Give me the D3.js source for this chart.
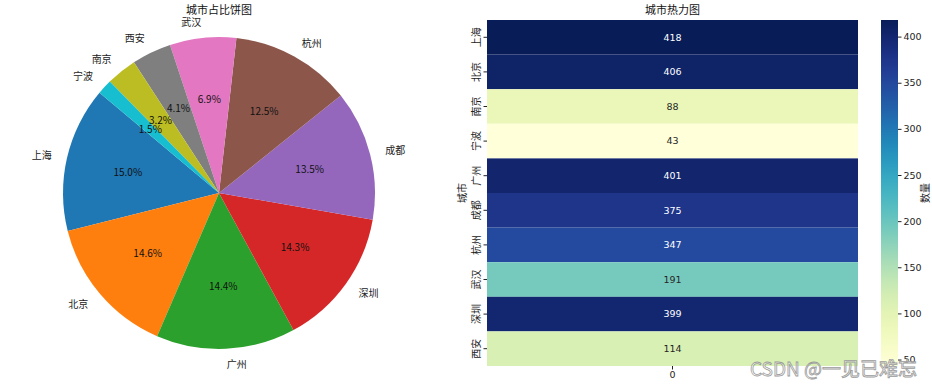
<!DOCTYPE html>
<html>
<head>
<meta charset="utf-8">
<script src="https://cdn.jsdelivr.net/npm/d3@7"></script>
<style>
  body { margin: 0; background: #fff; }
  text { font-family: "Noto Sans CJK SC", "DejaVu Sans", sans-serif; }
</style>
</head>
<body>
<div id="chart"></div>
<script>
// pie data (order as drawn, counterclockwise from 140deg)
const pieCities = ['上海', '北京', '广州', '深圳', '成都', '杭州', '武汉', '西安', '南京', '宁波'];
const pieValues = [418, 406, 401, 399, 375, 347, 191, 114, 88, 43];
const pieColors = ['#1f77b4', '#ff7f0e', '#2ca02c', '#d62728', '#9467bd', '#8c564b', '#e377c2', '#7f7f7f', '#bcbd22', '#17becf'];

// heatmap data
const heatCities = ['上海', '北京', '南京', '宁波', '广州', '成都', '杭州', '武汉', '深圳', '西安'];
const heatValues = [418, 406, 88, 43, 401, 375, 347, 191, 399, 114];
const colorbarTicks = [50, 100, 150, 200, 250, 300, 350, 400];

const W = 932, H = 387;
const svg = d3.select('#chart').append('svg')
  .attr('width', W)
  .attr('height', H);

// ---------- pie ----------
const cx = 219, cy = 193, r = 156;
const toRad = deg => deg * Math.PI / 180;
// matplotlib startangle=140, counterclockwise -> d3 angle = 90 - theta
const pie = d3.pie().sort(null).value(d => d)
  .startAngle(toRad(90 - 140))
  .endAngle(toRad(90 - 140 - 360));
const arcs = pie(pieValues);
const arc = d3.arc().innerRadius(0).outerRadius(r);

const pieG = svg.append('g').attr('transform', `translate(${cx},${cy})`);

pieG.selectAll('path')
  .data(arcs)
  .enter()
  .append('path')
  .attr('d', arc)
  .attr('fill', (d, i) => pieColors[i]);

const total = d3.sum(pieValues);
const mid = d => (d.startAngle + d.endAngle) / 2;

// city labels at 1.1r
pieG.selectAll('.plabel')
  .data(arcs)
  .enter()
  .append('text')
  .attr('class', 'plabel')
  .attr('x', d => 1.1 * r * Math.sin(mid(d)))
  .attr('y', d => -1.1 * r * Math.cos(mid(d)))
  .attr('dy', '0.4em')
  .attr('text-anchor', d => Math.sin(mid(d)) > 0 ? 'start' : 'end')
  .style('font-size', '10px')
  .style('fill', '#222')
  .text((d, i) => pieCities[i]);

// percent labels at 0.6r
pieG.selectAll('.pct')
  .data(arcs)
  .enter()
  .append('text')
  .attr('class', 'pct')
  .attr('x', d => 0.6 * r * Math.sin(mid(d)))
  .attr('y', d => -0.6 * r * Math.cos(mid(d)))
  .attr('dy', '0.35em')
  .attr('text-anchor', 'middle')
  .style('font-size', '10px')
  .style('fill', '#111')
  .text(d => (d.value / total * 100).toFixed(1) + '%');

svg.append('text')
  .attr('x', cx)
  .attr('y', 14)
  .attr('text-anchor', 'middle')
  .style('font-size', '11px')
  .style('fill', '#111')
  .text('城市占比饼图');

// ---------- heatmap ----------
const hx0 = 487, hx1 = 858, hy0 = 20, hy1 = 366;

const x = d3.scaleBand().domain(['0']).range([hx0, hx1]);
const y = d3.scaleBand().domain(heatCities).range([hy0, hy1]);
const vmin = d3.min(heatValues), vmax = d3.max(heatValues);
const color = d3.scaleSequential(d3.interpolateYlGnBu).domain([vmin, vmax]);

svg.append('g')
  .selectAll('rect')
  .data(heatCities)
  .enter()
  .append('rect')
  .attr('x', x('0'))
  .attr('y', d => y(d))
  .attr('width', x.bandwidth())
  .attr('height', y.bandwidth())
  .attr('fill', (d, i) => color(heatValues[i]));

const lum = c => {
  const o = d3.rgb(c);
  const f = v => { v /= 255; return v <= 0.03928 ? v / 12.92 : Math.pow((v + 0.055) / 1.055, 2.4); };
  return 0.2126 * f(o.r) + 0.7152 * f(o.g) + 0.0722 * f(o.b);
};

svg.append('g')
  .selectAll('text')
  .data(heatCities)
  .enter()
  .append('text')
  .attr('x', x('0') + x.bandwidth() / 2)
  .attr('y', d => y(d) + y.bandwidth() / 2)
  .attr('dy', '0.35em')
  .attr('text-anchor', 'middle')
  .style('font-size', '9.5px')
  .style('font-family', '"DejaVu Sans", sans-serif')
  .style('fill', (d, i) => lum(color(heatValues[i])) > 0.408 ? '#262626' : '#fff')
  .text((d, i) => heatValues[i]);

// y axis with rotated labels
const yAxis = svg.append('g')
  .attr('transform', `translate(${hx0},0)`)
  .call(d3.axisLeft(y).tickSize(3.5).tickPadding(0).tickFormat(''));
yAxis.select('.domain').remove();
yAxis.selectAll('line').attr('stroke', '#222');
yAxis.selectAll('.tick')
  .append('text')
  .attr('transform', 'translate(-11,0) rotate(-90)')
  .attr('dy', '0.35em')
  .attr('text-anchor', 'middle')
  .attr('fill', '#222')
  .style('font-size', '10px')
  .style('font-family', '"Noto Sans CJK SC", sans-serif')
  .text(d => d);

// x axis
const xAxis = svg.append('g')
  .attr('transform', `translate(0,${hy1})`)
  .call(d3.axisBottom(x).tickSize(3.5).tickPadding(2));
xAxis.select('.domain').remove();
xAxis.selectAll('line').attr('stroke', '#222');
xAxis.selectAll('text')
  .style('font-size', '9.5px')
  .style('font-family', '"DejaVu Sans", sans-serif')
  .attr('fill', '#222');

svg.append('text')
  .attr('transform', `translate(462,${(hy0 + hy1) / 2}) rotate(-90)`)
  .attr('dy', '0.35em')
  .attr('text-anchor', 'middle')
  .style('font-size', '10px')
  .style('fill', '#222')
  .text('城市');

svg.append('text')
  .attr('x', (hx0 + hx1) / 2)
  .attr('y', 14)
  .attr('text-anchor', 'middle')
  .style('font-size', '11px')
  .style('fill', '#111')
  .text('城市热力图');

// ---------- colorbar ----------
const cbx = 881, cbw = 17;
const cbScale = d3.scaleLinear().domain([vmin, vmax]).range([hy1, hy0]);

const defs = svg.append('defs');
const grad = defs.append('linearGradient')
  .attr('id', 'cbgrad')
  .attr('x1', 0).attr('y1', 1)
  .attr('x2', 0).attr('y2', 0);
d3.range(0, 1.0001, 0.05).forEach(t => {
  grad.append('stop')
    .attr('offset', t)
    .attr('stop-color', color(vmin + t * (vmax - vmin)));
});

svg.append('rect')
  .attr('x', cbx)
  .attr('y', hy0)
  .attr('width', cbw)
  .attr('height', hy1 - hy0)
  .attr('fill', 'url(#cbgrad)');

const cbAxis = svg.append('g')
  .attr('transform', `translate(${cbx + cbw},0)`)
  .call(d3.axisRight(cbScale).tickValues(colorbarTicks).tickSize(3.5).tickPadding(2));
cbAxis.select('.domain').remove();
cbAxis.selectAll('line').attr('stroke', '#222');
cbAxis.selectAll('text')
  .style('font-size', '9.5px')
  .style('font-family', '"DejaVu Sans", sans-serif')
  .attr('fill', '#222');

svg.append('text')
  .attr('transform', `translate(925,${(hy0 + hy1) / 2}) rotate(-90)`)
  .attr('dy', '0.35em')
  .attr('text-anchor', 'middle')
  .style('font-size', '10px')
  .style('fill', '#222')
  .text('数量');

// watermark
svg.append('text')
  .attr('x', 917)
  .attr('y', 376)
  .attr('text-anchor', 'end')
  .style('font-size', '19px')
  .style('fill', '#fff')
  .style('fill-opacity', 0.6)
  .style('stroke', '#9a9a9a')
  .style('stroke-width', 0.8)
  .text('CSDN @一见已难忘');
</script>
</body>
</html>
